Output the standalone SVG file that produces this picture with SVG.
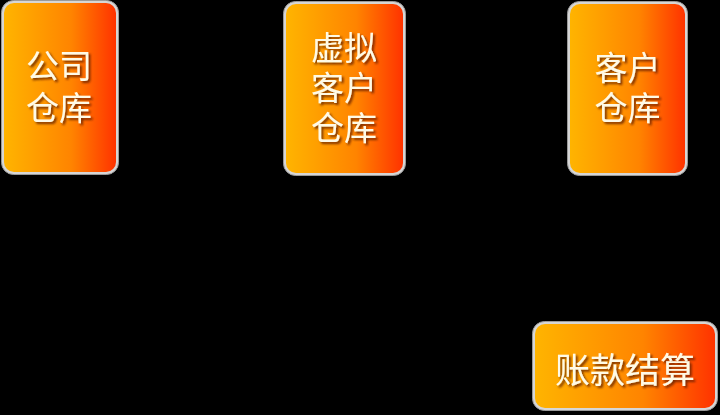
<svg xmlns="http://www.w3.org/2000/svg" width="720" height="415" viewBox="0 0 720 415">
<defs>
<linearGradient id="g" x1="0" y1="0" x2="1" y2="0">
<stop offset="0" stop-color="#ffb400"/>
<stop offset="0.6" stop-color="#ff8400"/>
<stop offset="1" stop-color="#ff3300"/>
</linearGradient>
<filter id="sh" x="-20%" y="-20%" width="140%" height="140%">
<feDropShadow dx="2" dy="2" stdDeviation="1" flood-color="#5a1a00" flood-opacity="0.8"/>
</filter>
</defs>
<style>
.frame{fill:#d6d6d6;stroke:#9a9a9a;stroke-width:1}
.fill{fill:url(#g)}
.t{font-family:"Liberation Sans","Noto Sans CJK SC",sans-serif;font-size:33px;fill:#fffae6;text-anchor:middle;filter:url(#sh)}
.t4{font-size:35px}
</style>
<rect width="720" height="415" fill="#000"/>
<g id="node-company">
<rect class="frame" x="1.5" y="0.5" width="117" height="174" rx="12"/>
<rect class="fill" x="4" y="3" width="112" height="169" rx="10"/>
<text class="t"><tspan x="59" y="78">公司</tspan><tspan x="59" y="120">仓库</tspan></text>
</g>
<g id="node-virtual">
<rect class="frame" x="283.5" y="1.5" width="122" height="174" rx="12"/>
<rect class="fill" x="286" y="4" width="117" height="169" rx="10"/>
<text class="t"><tspan x="344" y="60">虚拟</tspan><tspan x="344" y="100">客户</tspan><tspan x="344" y="140">仓库</tspan></text>
</g>
<g id="node-customer">
<rect class="frame" x="567.5" y="1.5" width="120" height="174" rx="12"/>
<rect class="fill" x="570" y="4" width="115" height="169" rx="10"/>
<text class="t"><tspan x="627.5" y="80">客户</tspan><tspan x="627.5" y="120">仓库</tspan></text>
</g>
<g id="node-settlement">
<rect class="frame" x="532.5" y="321.5" width="185" height="89" rx="12"/>
<rect class="fill" x="535" y="324" width="180" height="84" rx="10"/>
<text class="t t4" x="625" y="383">账款结算</text>
</g>
<g id="connectors"></g>
</svg>
